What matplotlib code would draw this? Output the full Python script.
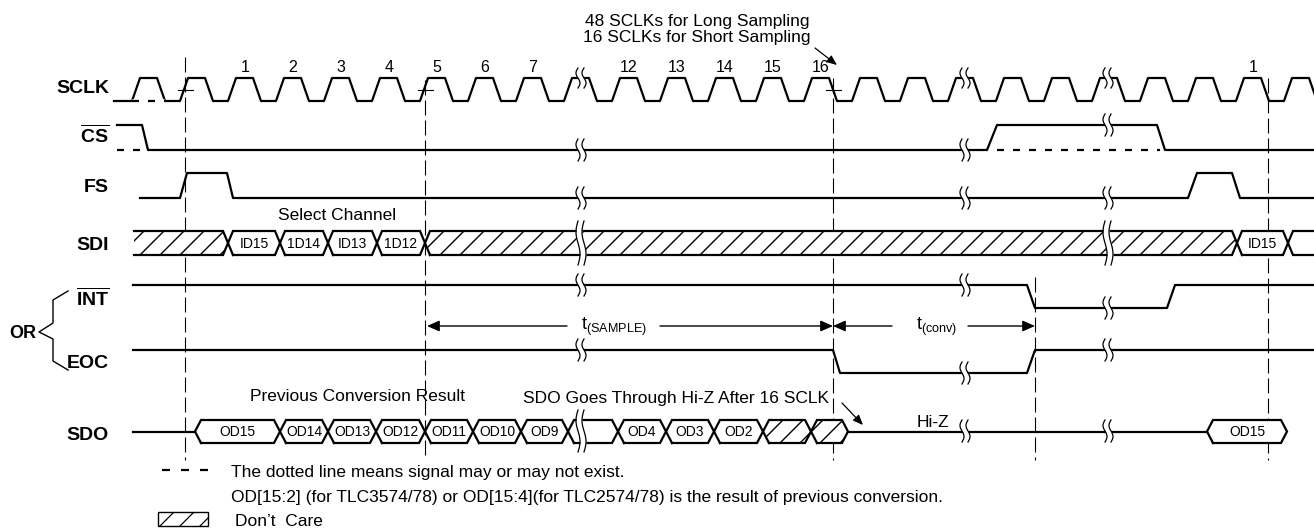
import numpy as np
import matplotlib
matplotlib.use('Agg')
from matplotlib import pyplot as plt
from matplotlib.patches import Polygon

plt.rcParams['font.family'] = ['Liberation Sans', 'DejaVu Sans']
plt.rcParams['mathtext.fontset'] = 'custom'
plt.rcParams['mathtext.rm'] = 'Liberation Sans'
plt.rcParams['mathtext.bf'] = 'Liberation Sans:bold'
plt.rcParams['lines.scale_dashes'] = False

# ---- data (x = time axis in picture pixels, y grows downward) ----
row_labels = ['SCLK', r'$\overline{\mathbf{CS}}$', 'FS', 'SDI',
              r'$\overline{\mathbf{INT}}$', 'EOC', 'SDO']
row_label_y = [93, 143, 192, 250, 306, 368, 440]
row_high = [78, 125, 173, 231, 285, 350, 420]
row_low = [101, 150, 198, 255, 308, 373, 443]

sclk_start = 114
sclk_rise = [132, 180, 228, 276, 324, 372, 420, 468, 516, 564, 612, 660, 708,
             756, 804, 852, 900, 948, 996, 1044, 1092, 1140, 1188, 1236, 1284]
sclk_num = {2: '1', 3: '2', 4: '3', 5: '4', 6: '5', 7: '6', 8: '7',
            10: '12', 11: '13', 12: '14', 13: '15', 14: '16', 23: '1'}

cs_x = [117, 142, 148, 987, 997, 1157, 1165, 1314]
cs_lv = [1, 1, 0, 0, 1, 1, 0, 0]
cs_dotted = [(117, 148), (997, 1160)]

fs_x = [140, 180, 187, 227, 233, 1188, 1197, 1232, 1240, 1314]
fs_lv = [0, 0, 1, 1, 0, 0, 1, 1, 0, 0]

int_x = [133, 1027, 1035, 1167, 1175, 1314]
int_lv = [1, 1, 0, 0, 1, 1]

eoc_x = [133, 833, 840, 1027, 1035, 1314]
eoc_lv = [1, 1, 0, 0, 1, 1]

sdi_edges = [134, 228, 280, 328, 377, 425, 1237, 1288, 1314]
sdi_cells = ['/', 'ID15', '1D14', 'ID13', '1D12', '/', 'ID15', '']

sdo_edges = [195, 280, 328, 376, 425, 473, 521, 568, 618, 666, 714, 763, 811, 848]
sdo_cells = ['OD15', 'OD14', 'OD13', 'OD12', 'OD11', 'OD10', 'OD9', '',
             'OD4', 'OD3', 'OD2', '/', '/']
sdo2_edges = [1207, 1287]
sdo2_cells = ['OD15']
sdo_hiz = [(133, 195), (848, 1207)]

vline_x = [185, 425, 833, 1035, 1268]
vline_top = [57, 80, 78, 277, 78]
vline_bot = 460
plus_x = [185, 425, 833]

break_x = [581, 965, 1108]
break_rows = {  # (center y, half height) per break position, None = no break
    'SCLK': [(78, 10), (78, 10), (78, 10)],
    'CS': [(150, 11), (150, 11), (125, 11)],
    'FS': [(198, 11), (198, 11), (198, 11)],
    'SDI': [(243, 22), None, (243, 22)],
    'INT': [(285, 11), (285, 11), (308, 11)],
    'EOC': [(350, 11), (373, 11), (350, 11)],
    'SDO': [(431, 21), (431, 11), (431, 11)],
}

brace_x = [68, 53, 53, 39, 53, 53, 68]
brace_y = [291, 300, 323, 332, 339, 361, 370]

t_sample = (425, 833)
t_conv = (833, 1035)

LW = 1.6
K = 'black'
PT = 0.72  # points per pixel at 100 dpi
FS_TXT = 12.5

fig = plt.figure(figsize=(13.14, 5.29), dpi=100)
ax = fig.add_axes([0, 0, 1, 1])
ax.set_xlim(0, 1314)
ax.set_ylim(529, 0)
ax.axis('off')


def level_line(xs, lv, hi, lo):
    ax.plot(xs, [hi if v else lo for v in lv], color=K, lw=LW, zorder=3)


def hatch(poly, x0, x1, top, bot, lw=1.0):
    h = bot - top
    start = np.floor((x0 - h) / 20) * 20
    for xs in np.arange(start, x1 + h, 20):
        ln, = ax.plot([xs, xs + h], [bot, top], color=K, lw=lw, zorder=2.5)
        ln.set_clip_path(poly)


def bus(edges, cells, top, bot, open_start=False, open_end=False, d=5, fs=10):
    mid = (top + bot) / 2
    n = len(cells)
    for i, lab in enumerate(cells):
        e0, e1 = edges[i], edges[i + 1]
        lo_ = open_start and i == 0
        ro_ = open_end and i == n - 1
        left = [(e0, bot), (e0, top)] if lo_ else [(e0 + d, bot), (e0, mid), (e0 + d, top)]
        right = [(e1, top), (e1, bot)] if ro_ else [(e1 - d, top), (e1, mid), (e1 - d, bot)]
        pts = left + right
        poly = Polygon(pts, closed=True, facecolor='white', edgecolor='none', zorder=2)
        ax.add_patch(poly)
        if lo_ and ro_:
            outs = [[(e0, top), (e1, top)], [(e0, bot), (e1, bot)]]
        elif lo_:
            outs = [[(e0, top)] + right + [(e0, bot)]]
        elif ro_:
            outs = [[(e1, bot)] + left + [(e1, top)]]
        else:
            outs = [pts + [pts[0]]]
        for o in outs:
            ox, oy = zip(*o)
            ax.plot(ox, oy, color=K, lw=LW, zorder=3, solid_joinstyle='miter')
        if lab == '/':
            hatch(poly, e0, e1, top, bot)
        elif lab:
            ax.text((e0 + e1) / 2, mid + 1, lab, ha='center', va='center',
                    fontsize=fs, zorder=4)


def brk(x, yc, h):
    t = np.linspace(-1, 1, 40)
    y = yc + h * t
    off = 2.0 * np.sin(np.pi * t)
    ax.fill_betweenx(y, x - 3 + off, x + 3 + off, color='white', lw=0, zorder=5)
    for s in (-3, 3):
        ax.plot(x + s + off, y, color=K, lw=0.9, zorder=6)


# dashed reference lines
for x, yt in zip(vline_x, vline_top):
    ax.plot([x, x], [yt, vline_bot], color=K, lw=0.8, dashes=(15 * PT, 5 * PT), zorder=1)
for x in plus_x:
    ax.plot([x - 7.5, x + 7.5], [90, 90], color=K, lw=0.8, zorder=3)

# row labels
for lab, y in zip(row_labels, row_label_y):
    ax.text(109, y, lab, ha='right', va='baseline', fontsize=14, fontweight='bold')
ax.text(9, 338, 'OR', ha='left', va='baseline', fontsize=13, fontweight='bold')
ax.plot(brace_x, brace_y, color=K, lw=1.0)

# SCLK
hi, lo = row_high[0], row_low[0]
xs, ys = [sclk_start], [lo]
for r in sclk_rise:
    xs += [r, r + 8, r + 25, r + 33]
    ys += [lo, hi, hi, lo]
ax.plot(xs, ys, color=K, lw=LW, zorder=3)
ax.plot([sclk_rise[0] + 2, sclk_rise[0] + 31], [lo, lo], color='white', lw=LW + 1, zorder=3.2)
ax.plot([sclk_rise[0], sclk_rise[0] + 33], [lo, lo], color=K, lw=LW,
        dashes=(7 * PT, 9 * PT), zorder=3.3)
for k, s in sclk_num.items():
    ax.text(sclk_rise[k] + 17, 72, s, ha='center', va='baseline', fontsize=11.5)

# CS
level_line(cs_x, cs_lv, row_high[1], row_low[1])
for a, b in cs_dotted:
    ax.plot([a, b], [row_low[1]] * 2, color=K, lw=LW, dashes=(7 * PT, 9 * PT), zorder=3)

# FS, INT, EOC
level_line(fs_x, fs_lv, row_high[2], row_low[2])
level_line(int_x, int_lv, row_high[4], row_low[4])
level_line(eoc_x, eoc_lv, row_high[5], row_low[5])

# SDI and SDO buses
bus(sdi_edges, sdi_cells, row_high[3], row_low[3], open_start=True, open_end=True)
sdo_mid = (row_high[6] + row_low[6]) / 2
for a, b in sdo_hiz:
    ax.plot([a, b], [sdo_mid, sdo_mid], color=K, lw=LW, zorder=3)
bus(sdo_edges, sdo_cells, row_high[6], row_low[6], d=6)
bus(sdo2_edges, sdo2_cells, row_high[6], row_low[6], d=6)

# breaks
for name, lst in break_rows.items():
    for x, item in zip(break_x, lst):
        if item is not None:
            brk(x, *item)

# timing arrows
arw = dict(arrowstyle='-|>,head_length=0.75,head_width=0.33', color=K, lw=1.0,
           shrinkA=0, shrinkB=0)
ax.annotate('', xy=(t_sample[0] + 2, 326), xytext=(567, 326), arrowprops=arw)
ax.annotate('', xy=(t_sample[1], 326), xytext=(660, 326), arrowprops=arw)
ax.annotate('', xy=(t_conv[0], 326), xytext=(892, 326), arrowprops=arw)
ax.annotate('', xy=(t_conv[1], 326), xytext=(968, 326), arrowprops=arw)
ax.text(614, 330, r'$\mathregular{t_{(SAMPLE)}}$', ha='center', va='baseline', fontsize=13)
ax.text(937, 330, r'$\mathregular{t_{(conv)}}$', ha='center', va='baseline', fontsize=13)

# annotations
ax.text(697, 26, '48 SCLKs for Long Sampling', ha='center', va='baseline', fontsize=FS_TXT)
ax.text(697, 42, '16 SCLKs for Short Sampling', ha='center', va='baseline', fontsize=FS_TXT)
small = dict(arrowstyle='-|>,head_length=0.6,head_width=0.25', color=K, lw=0.9,
             shrinkA=0, shrinkB=0)
ax.annotate('', xy=(837, 65), xytext=(815, 48), arrowprops=small)
ax.text(278, 220, 'Select Channel', ha='left', va='baseline', fontsize=FS_TXT)
ax.text(250, 401, 'Previous Conversion Result', ha='left', va='baseline', fontsize=FS_TXT)
ax.text(523, 403, 'SDO Goes Through Hi-Z After 16 SCLK', ha='left', va='baseline', fontsize=FS_TXT)
ax.annotate('', xy=(863, 425), xytext=(842, 403), arrowprops=small)
ax.text(917, 427, 'Hi-Z', ha='left', va='baseline', fontsize=FS_TXT)

# legend
ax.plot([162, 208], [470, 470], color=K, lw=LW, dashes=(8 * PT, 11 * PT))
ax.text(231, 477, 'The dotted line means signal may or may not exist.',
        ha='left', va='baseline', fontsize=FS_TXT)
ax.text(231, 502, 'OD[15:2] (for TLC3574/78) or OD[15:4](for TLC2574/78) is the result of previous conversion.',
        ha='left', va='baseline', fontsize=FS_TXT)
box = Polygon([(158, 512), (208, 512), (208, 526), (158, 526)], closed=True,
              facecolor='white', edgecolor=K, lw=1.0, zorder=2)
ax.add_patch(box)
hatch(box, 158, 208, 512, 526, lw=0.9)
ax.text(235, 526, 'Don\u2019t  Care', ha='left', va='baseline', fontsize=FS_TXT)

fig.savefig('out.png', dpi=100)
